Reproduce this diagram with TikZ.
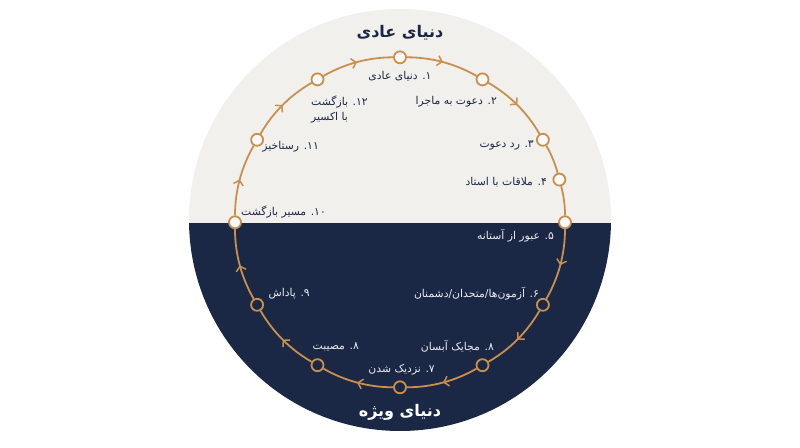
\documentclass[tikz,border=0pt]{standalone}
\usepackage{fontspec}
\newfontfamily\arabicfont[Script=Arabic]{DejaVu Sans}
\TeXXeTstate=1
\usetikzlibrary{decorations.markings,arrows.meta}
\definecolor{navy}{HTML}{1B2845}
\definecolor{paper}{HTML}{F1F0ED}
\definecolor{ring}{HTML}{C98F4E}
\definecolor{dotfill}{HTML}{FBFAF8}
\definecolor{lighttext}{HTML}{ECECEF}
\begin{document}
\begin{tikzpicture}[x=1pt,y=1pt,
  stage/.style={circle, draw=ring, line width=1.8pt, minimum size=12pt, inner sep=0pt},
  topstage/.style={stage, fill=dotfill},
  botstage/.style={stage, fill=navy},
  conn/.style={draw=ring, line width=1.8pt},
  midarrow/.style={postaction={decorate}, decoration={markings,
     mark=at position 0.5 with {\arrow[ring, line width=1.5pt]{Straight Barb[length=4.5pt,width=10pt]}}}},
  arc30/.style={bend left=15, looseness=0.87},
  arc15/.style={bend left=7.5, looseness=0.86},
  lbl/.style={font=\arabicfont\fontsize{10.8}{15.5}\selectfont, inner sep=0pt},
  toplbl/.style={lbl, text=navy},
  botlbl/.style={lbl, text=lighttext},
  title/.style={font=\arabicfont\bfseries\fontsize{16}{19}\selectfont, inner sep=0pt}]
\useasboundingbox (0,0) rectangle (800,447);
\fill[white] (0,0) rectangle (800,447);
\begin{scope}
  \clip (400,227) circle (211);
  \fill[paper] (0,224) rectangle (800,447);
  \fill[navy] (0,0) rectangle (800,224);
\end{scope}
\coordinate (c) at (400,224.7);
% stages
\node[topstage] (s1)  at ([shift={(90:165)}]c) {};
\node[topstage] (s2)  at ([shift={(60:165)}]c) {};
\node[topstage] (s3)  at ([shift={(30:165)}]c) {};
\node[topstage] (s4)  at ([shift={(15:165)}]c) {};
\node[topstage] (s5)  at ([shift={(0:165)}]c) {};
\node[botstage] (s6)  at ([shift={(-30:165)}]c) {};
\node[botstage] (s6b) at ([shift={(-60:165)}]c) {};
\node[botstage] (s7)  at ([shift={(-90:165)}]c) {};
\node[botstage] (s8)  at ([shift={(-120:165)}]c) {};
\node[botstage] (s9)  at ([shift={(-150:165)}]c) {};
\node[topstage] (s10) at ([shift={(180:165)}]c) {};
\node[topstage] (s11) at ([shift={(150:165)}]c) {};
\node[topstage] (s12) at ([shift={(120:165)}]c) {};
% connectors
\draw[conn, midarrow] (s1) to[arc30] (s2);
\draw[conn, midarrow] (s2) to[arc30] (s3);
\draw[conn] (s3) to[arc15] (s4);
\draw[conn] (s4) to[arc15] (s5);
\draw[conn, midarrow] (s5) to[arc30] (s6);
\draw[conn, midarrow] (s6) to[arc30] (s6b);
\draw[conn, midarrow] (s6b) to[arc30] (s7);
\draw[conn, midarrow] (s7) to[arc30] (s8);
\draw[conn, midarrow] (s8) to[arc30] (s9);
\draw[conn, midarrow] (s9) to[arc30] (s10);
\draw[conn, midarrow] (s10) to[arc30] (s11);
\draw[conn, midarrow] (s11) to[arc30] (s12);
\draw[conn, midarrow] (s12) to[arc30] (s1);
% titles
\node[title, text=navy] (t1) at (400,414) {\beginR دنیای عادی\endR};
\node[title, text=white] (t2) at (400,35) {\beginR دنیای ویژه\endR};
% labels
\node[toplbl] (l1) at (400,371) {\beginR ۱. دنیای عادی\endR};
\node[toplbl, anchor=east] (l2) at (497,345.3) {\beginR ۲. دعوت به ماجرا\endR};
\node[toplbl, anchor=east] (l3) at (534,301.3) {\beginR ۳. رد دعوت\endR};
\node[toplbl, anchor=east] (l4) at (547,265.3) {\beginR ۴. ملاقات با استاد\endR};
\node[botlbl, anchor=east] (l5) at (554,211) {\beginR ۵. عبور از آستانه\endR};
\node[botlbl, anchor=east] (l6) at (539,153.7) {\beginR ۶. آزمون‌ها/متحدان/دشمنان\endR};
\node[botlbl, anchor=east] (l6b) at (494,100.3) {\beginR ۸. مجایک آبسان\endR};
\node[botlbl, anchor=east] (l7) at (435,77.7) {\beginR ۷. نزدیک شدن\endR};
\node[botlbl, anchor=east] (l8) at (359,100.3) {\beginR ۸. مصیبت\endR};
\node[botlbl, anchor=east] (l9) at (310,153.7) {\beginR ۹. پاداش\endR};
\node[toplbl, anchor=east] (l10) at (326,235.3) {\beginR ۱۰. مسیر بازگشت\endR};
\node[toplbl, anchor=east] (l11) at (319,300.3) {\beginR ۱۱. رستاخیز\endR};
\node[toplbl, anchor=west, align=left] (l12) at (311,337.5) {\beginR ۱۲. بازگشت\endR\\\beginR با اکسیر\endR};
\end{tikzpicture}
\end{document}
